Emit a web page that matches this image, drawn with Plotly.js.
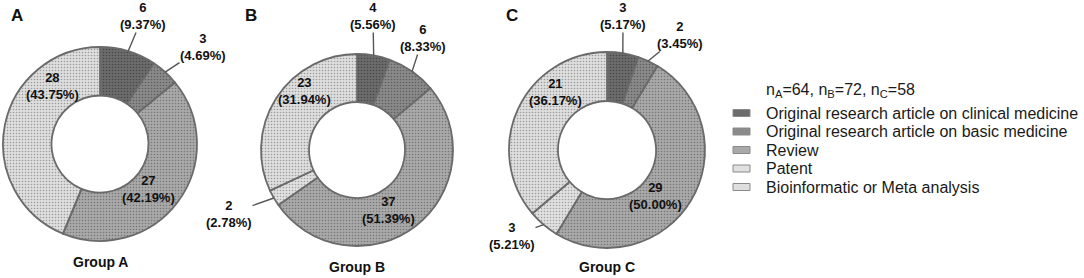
<!DOCTYPE html>
<html>
<head>
<meta charset="utf-8">
<script src="https://cdn.plot.ly/plotly-3.0.1.min.js"></script>
<style>html,body{margin:0;padding:0;background:#fff;}#chart{width:1084px;height:278px;}</style>
</head>
<body>
<div id="chart"></div>
<script>
// ---------- data ----------
const categories = [
  "Original research article on clinical medicine",
  "Original research article on basic medicine",
  "Review",
  "Patent",
  "Bioinformatic or Meta analysis"
];
const groupNames = ["Group A", "Group B", "Group C"];
const panelLetters = ["A", "B", "C"];
const valuesA = [6, 3, 27, 0, 28];
const valuesB = [4, 6, 37, 2, 23];
const valuesC = [3, 2, 29, 3, 21];
const pctA = ["9.37%", "4.69%", "42.19%", "", "43.75%"];
const pctB = ["5.56%", "8.33%", "51.39%", "2.78%", "31.94%"];
const pctC = ["5.17%", "3.45%", "50.00%", "5.21%", "36.17%"];
const sampleSizes = {A: 64, B: 72, C: 58};

// ---------- styles ----------
const W = 1084, H = 278;
const baseColors = ["#6c6c6c", "#8a8a8a", "#a9a9a9", "#e0e0e0", "#dedede"];
const dotColors  = ["#474747", "#5e5e5e", "#777777", "#a2a2a2", "#9c9c9c"];
const FONT = "Liberation Sans, Arial, sans-serif";

// pie geometry (pixel centre and radius per panel)
const panels = [
  {cx: 100, cy: 144, r: 97, values: valuesA, pct: pctA,
   inside: {2: [148, 189], 4: [52, 86]},
   outside: {0: [143, 16], 1: [203, 47]},
   groupY: 262},
  {cx: 357, cy: 150, r: 96, values: valuesB, pct: pctB,
   inside: {2: [388, 210], 4: [304, 91]},
   outside: {0: [373, 16], 1: [423, 38], 3: [229, 214]},
   groupY: 267},
  {cx: 607, cy: 150, r: 98, values: valuesC, pct: pctC,
   inside: {2: [655, 196], 4: [555, 92]},
   outside: {0: [623, 16], 1: [680, 35], 3: [512, 236]},
   groupY: 267}
];
const letterPos = [[17, 15], [251, 15], [512, 15]];
const legendPos = {swatchX0: 733, swatchX1: 750, textX: 765, firstY: 113, step: 18.5, titleY: 90};

const px = x => x / W;
const py = y => 1 - y / H;

const traces = panels.map((p, k) => ({
  type: "pie",
  values: p.values,
  labels: categories,
  sort: false,
  direction: "clockwise",
  rotation: 0,
  hole: 0.5,
  textinfo: "none",
  hoverinfo: "label+value",
  showlegend: false,
  domain: {x: [px(p.cx - p.r), px(p.cx + p.r)], y: [py(p.cy + p.r), py(p.cy - p.r)]},
  marker: {
    colors: baseColors,
    line: {color: "#6a6a6a", width: 1.8},
    pattern: {shape: ".", fgcolor: dotColors, bgcolor: baseColors, size: 3, solidity: 0.24}
  }
}));

const annotations = [];
const shapes = [];
const labelFont = {family: FONT, size: 13, color: "#111"};
panels.forEach((p, k) => {
  const total = p.values.reduce((a, b) => a + b, 0);
  let cum = 0;
  p.values.forEach((v, i) => {
    const start = cum / total * 2 * Math.PI;
    cum += v;
    const end = cum / total * 2 * Math.PI;
    if (v === 0) return;
    const mid = (start + end) / 2;
    const txt = "<b>" + v + "<br>(" + p.pct[i] + ")</b>";
    if (p.inside[i]) {
      const [tx, ty] = p.inside[i];
      annotations.push({xref: "paper", yref: "paper", x: px(tx), y: py(ty),
        text: txt, showarrow: false, font: labelFont, xanchor: "center", yanchor: "middle"});
    } else if (p.outside[i]) {
      const ex = p.cx + p.r * Math.sin(mid);
      const ey = p.cy - p.r * Math.cos(mid);
      const [tx, ty] = p.outside[i];
      annotations.push({xref: "paper", yref: "paper", x: px(ex), y: py(ey),
        ax: tx - ex, ay: ty - ey, axref: "pixel", ayref: "pixel",
        text: txt, showarrow: true, arrowhead: 0, arrowwidth: 1.4, arrowcolor: "#555",
        standoff: 0, startstandoff: 0, font: labelFont, borderpad: 0});
    }
  });
  annotations.push({xref: "paper", yref: "paper", x: px(p.cx), y: py(p.groupY),
    text: "<b>" + groupNames[k] + "</b>", showarrow: false,
    font: {family: FONT, size: 14, color: "#111"}, xanchor: "center", yanchor: "middle"});
  annotations.push({xref: "paper", yref: "paper", x: px(letterPos[k][0]), y: py(letterPos[k][1]),
    text: "<b>" + panelLetters[k] + "</b>", showarrow: false,
    font: {family: FONT, size: 17, color: "#111"}, xanchor: "center", yanchor: "middle"});
});

// legend (title + one entry per category)
annotations.push({xref: "paper", yref: "paper", x: px(legendPos.textX - 1), y: py(legendPos.titleY),
  text: "n<sub>A</sub>=" + sampleSizes.A + ", n<sub>B</sub>=" + sampleSizes.B + ", n<sub>C</sub>=" + sampleSizes.C,
  showarrow: false, font: {family: FONT, size: 16, color: "#1a1a1a"}, xanchor: "left", yanchor: "middle"});
categories.forEach((c, i) => {
  const yc = legendPos.firstY + i * legendPos.step;
  shapes.push({type: "rect", xref: "paper", yref: "paper",
    x0: px(legendPos.swatchX0), x1: px(legendPos.swatchX1), y0: py(yc + 3.5), y1: py(yc - 3.5),
    fillcolor: baseColors[i], line: {color: "#8a8a8a", width: 1}});
  annotations.push({xref: "paper", yref: "paper", x: px(legendPos.textX - 1), y: py(yc),
    text: c, showarrow: false, font: {family: FONT, size: 16, color: "#1a1a1a"},
    xanchor: "left", yanchor: "middle"});
});

const layout = {
  width: W, height: H,
  margin: {l: 0, r: 0, t: 0, b: 0},
  paper_bgcolor: "#fff",
  font: {family: FONT, size: 14, color: "#222"},
  showlegend: false,
  annotations: annotations,
  shapes: shapes
};

Plotly.newPlot("chart", traces, layout, {displayModeBar: false, staticPlot: true});
</script>
</body>
</html>
